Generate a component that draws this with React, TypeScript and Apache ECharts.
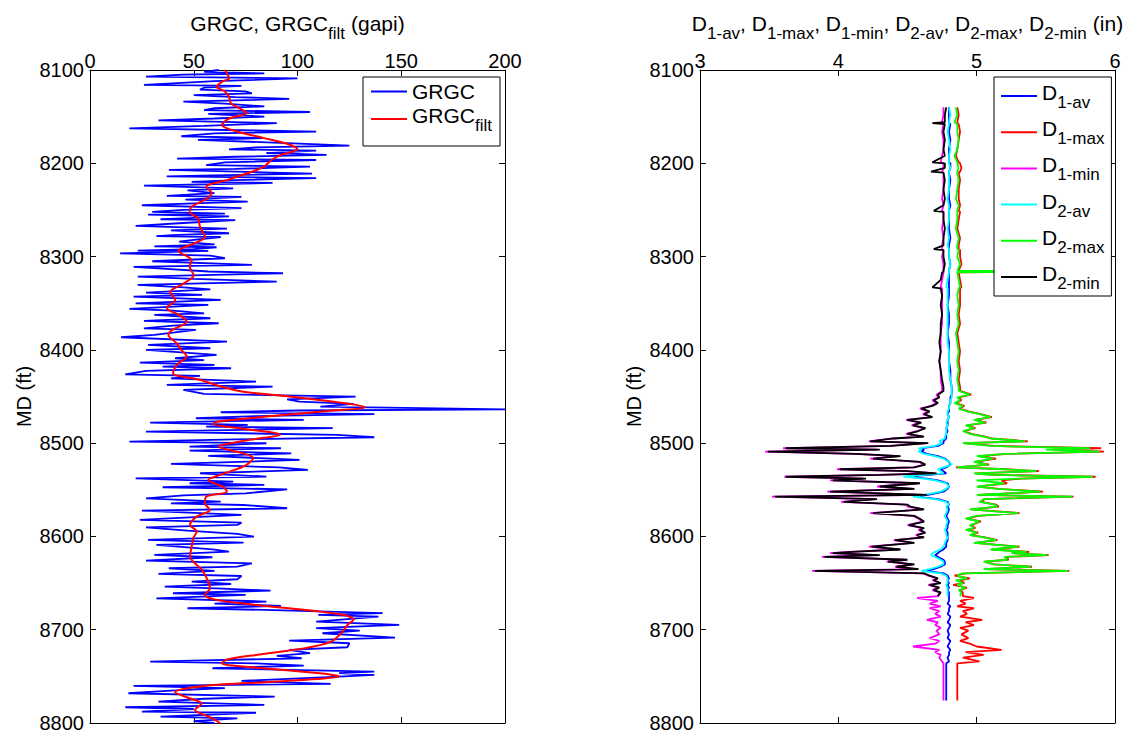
import React, { useEffect, useRef } from "react";
import * as echarts from "echarts";

const FONT = "'Liberation Sans', Arial, Helvetica, sans-serif";

// Axis ranges
const MD_MIN = 8100;
const MD_MAX = 8800;
const MD_STEP = 100;
const GR_MIN = 0;
const GR_MAX = 200;
const GR_STEP = 50;
const D_MIN = 3;
const D_MAX = 6;
const D_STEP = 1;

// GRGC raw gamma ray (gapi) vs measured depth (ft)
const GRGC_DEPTH = [
  8100, 8102, 8103.6, 8105, 8107, 8109, 8112, 8116, 8117, 8119,
  8121, 8123, 8125, 8127, 8129, 8131, 8134, 8136, 8139, 8141,
  8143, 8145, 8147, 8150, 8152, 8154, 8157, 8160, 8162.5, 8166,
  8168, 8171, 8173, 8175, 8178.6, 8181, 8183, 8185, 8186.5, 8189,
  8191, 8193, 8195, 8196.5, 8199, 8202, 8203.6, 8206, 8207, 8211,
  8213, 8214, 8216, 8218, 8220, 8221, 8224, 8227, 8229, 8232,
  8235, 8236, 8239, 8241, 8243, 8245, 8248, 8250, 8252, 8254,
  8255, 8257, 8259, 8260, 8261, 8264, 8267, 8270, 8272, 8275,
  8277, 8278, 8279, 8282, 8284, 8287, 8289, 8290, 8292, 8293.6,
  8294, 8296.5, 8299,
  8301.8, 8305, 8309, 8311, 8312.6, 8316, 8317.9, 8321.5, 8324, 8326.8,
  8330.4, 8333, 8335.1, 8338.6, 8341.1, 8342.9, 8346.5, 8350.1, 8351.8, 8356.1,
  8358, 8360.8, 8362.6, 8366.1, 8369, 8371.5, 8374, 8376.9, 8378.6, 8384,
  8386.5, 8391.1, 8394.7, 8398.3, 8400.1, 8405.4, 8409, 8411, 8413.7, 8416,
  8418, 8419.7, 8422.6, 8426.2, 8427.9, 8430.5, 8434, 8437.6, 8439.4, 8443,
  8447.2, 8450.1, 8453, 8455.5, 8458, 8460.8, 8463.7, 8465, 8466.9, 8469,
  8471, 8473.3, 8475, 8478, 8480.5, 8482.3, 8484, 8487.6, 8491.2, 8493.7,
  8496, 8498.3, 8500.1, 8503.7,
  8505.5, 8508, 8510.9, 8513.7, 8518, 8522.3, 8525.9, 8528.7, 8532.3, 8535.9,
  8537.7, 8541.2, 8543, 8544.8, 8547.3, 8549.5, 8553.8, 8556, 8559.1, 8562.7,
  8564.5, 8566.3, 8569.8, 8572.3, 8577, 8579.5, 8582.3, 8585.2, 8587.7, 8590.2,
  8593.8, 8597.3, 8600.2, 8603.8, 8606.6, 8609.1, 8613.8, 8616.3, 8619.8, 8622.3,
  8625.9, 8628.8, 8632.4, 8634.1, 8637, 8640.2, 8642.4,
  8645.9, 8648.4, 8651, 8653.8, 8656, 8658.1, 8660.9, 8662.7, 8666.3, 8669.8,
  8672, 8674.5, 8677, 8678.8, 8682.3, 8684, 8685.9, 8691.3, 8694.9, 8698.4,
  8701, 8703.8, 8708.4, 8711.6, 8714.5, 8718.8, 8721.6, 8725.2, 8728, 8730.6,
  8734.2, 8736, 8738.4, 8741.3, 8744.9, 8746.5, 8748.4, 8750.2, 8754.9, 8758.1,
  8760.2, 8762.7, 8765.2, 8768.1, 8771.7, 8774, 8777, 8780.6, 8783.1, 8785,
  8787.7, 8789, 8793.1, 8795, 8798, 8800,
];
const GRGC_VALUE = [
  62, 55, 84, 45, 27, 100, 60, 26, 73, 55,
  53, 75, 78, 50, 70, 96, 45, 65, 84, 60,
  55, 106, 57, 84, 60, 33, 90, 55, 19, 109,
  60, 44, 83, 52, 98, 125, 80, 67, 109, 85,
  114, 70, 42, 109, 65, 56, 106, 70, 38, 107,
  60, 37, 109, 70, 49, 88, 26, 69, 47, 60,
  37, 73, 46, 76, 50, 25, 73, 45, 30, 65,
  28, 67, 45, 34, 70, 45, 22, 66, 39, 67,
  40, 32, 63, 50, 43, 60, 31, 61, 50, 23,
  57, 14.5, 58,
  65, 30, 78, 21, 33, 57, 93, 23, 50, 90,
  23, 45, 58, 27, 54, 21, 63, 22, 57, 19,
  40, 55, 31, 58, 26, 62, 40, 26, 51, 31,
  15, 66, 28, 58, 27, 61, 41, 55, 24, 60,
  35, 68, 27, 17, 53, 39, 80, 37, 88, 45,
  55, 128, 95, 101, 127, 111, 200, 100, 63, 137,
  80, 51, 103, 29, 76, 56, 117, 27, 119, 137,
  70, 19, 85, 48,
  92, 48, 97, 57, 101, 39, 91, 105, 53, 85,
  22, 69, 48, 84, 35, 95, 75, 45, 27, 63,
  39, 74, 95, 25, 73, 48, 24, 73, 71, 27,
  47, 71, 79, 28, 74, 32, 59, 67, 31, 59,
  27, 78, 71, 38, 60, 33, 73,
  71, 49, 68, 36, 64, 87, 40, 75, 32, 85,
  60, 92, 47, 84, 141, 110, 139, 109, 149, 109,
  130, 112, 147, 96, 125, 124, 96, 106, 90, 102,
  29, 80, 103, 59, 137, 120, 137, 120, 73, 116,
  21, 65, 39, 18.5, 89, 55, 33, 84, 17, 50,
  25, 80, 34, 71, 50, 60,
];

// Filtered GRGC
const FILT_DEPTH = [
  8100, 8109, 8112, 8118, 8123, 8129, 8136, 8146, 8152, 8159,
  8166, 8173, 8179, 8185, 8191, 8196.5, 8204, 8211, 8218, 8225,
  8232, 8239, 8246.5, 8252, 8259, 8268, 8279, 8286, 8294, 8304,
  8311, 8320, 8329, 8338, 8346.5, 8355, 8363, 8370, 8379, 8384,
  8393, 8400, 8407, 8416, 8425, 8432, 8439, 8445, 8450, 8457,
  8461.5, 8466, 8471.5, 8477, 8479.4, 8484, 8491, 8496.5, 8503.7, 8511,
  8516, 8525, 8534, 8539.5, 8546.6, 8552, 8557.3, 8564.5, 8571.6, 8578.8,
  8587.7, 8594.8, 8602, 8611, 8621.6, 8636, 8648.4, 8655.6, 8662.7, 8668,
  8673.4, 8678.8, 8684, 8689, 8695, 8704, 8713, 8720, 8727, 8732,
  8736, 8741, 8747, 8750, 8755.6, 8760, 8767, 8773.5, 8779, 8786,
  8793, 8800,
];
const FILT_VALUE = [
  65, 67, 64, 61, 65, 67, 68, 75.5, 67, 63.5,
  71, 84, 95, 100, 92, 87.5, 83.5, 75.5, 66, 56,
  58.6, 55.4, 49, 48, 52, 53, 55.4, 50, 42.6, 49,
  48, 50, 45, 38.6, 41, 37, 43.4, 46.6, 39.4, 37.8,
  41.8, 44, 46.6, 41.8, 40, 53, 62.7, 74, 96, 122,
  132.5, 112, 85, 61, 59.4, 72, 91.6, 77, 62, 74,
  78.7, 74, 62.7, 57, 64, 66, 56, 55.4, 57.8, 51.4,
  48.2, 51.4, 49.8, 49, 48.2, 54, 57, 57.8, 55.4, 61,
  80, 104, 122, 127, 124, 121, 116, 103, 80, 66,
  63.5, 82, 112, 120, 90, 56, 41, 48, 53.8, 50.6,
  57, 62.7,
];

// Caliper depths (ft); D2 curves use the first D2_MIN.length entries
const D_DEPTH = [
  8140, 8148, 8156, 8157, 8158, 8166, 8175, 8185, 8192, 8199,
  8200, 8205, 8209, 8210, 8218, 8228, 8238, 8245, 8251, 8252,
  8260, 8270, 8280, 8288, 8292, 8293, 8300, 8308, 8315, 8316,
  8317, 8325, 8333, 8334, 8342, 8352, 8362, 8372, 8382, 8392,
  8402, 8412, 8422, 8432, 8440, 8444, 8448, 8451, 8454, 8457,
  8460, 8463, 8466, 8469, 8472, 8475, 8478, 8481, 8484, 8487,
  8490, 8493, 8495, 8498, 8500, 8503, 8505.5, 8507, 8509, 8511.5,
  8514, 8516.5, 8520, 8523, 8526, 8528, 8530, 8532.5, 8534, 8536,
  8538, 8540, 8543, 8546.5, 8549, 8552, 8555.5, 8557.3, 8560, 8563,
  8566, 8568, 8571, 8575, 8578, 8581, 8584, 8588, 8591, 8593,
  8596, 8598.5, 8601, 8604, 8607, 8611, 8614, 8616.5, 8618, 8620,
  8622, 8625, 8627, 8630, 8632.5, 8635, 8637, 8639.5, 8642, 8645,
  8647, 8650, 8652, 8655, 8657.5, 8660, 8664, 8666, 8669, 8672,
  8675, 8677, 8680, 8683, 8686, 8689.5, 8692, 8695, 8698, 8701,
  8705, 8709, 8712, 8715, 8718, 8721.6, 8724, 8727, 8730, 8734,
  8736, 8745, 8755, 8765, 8776,
];
const D1_AV = [
  4.80, 4.80, 4.80, 4.80, 4.81, 4.80, 4.81, 4.80, 4.80, 4.80,
  4.81, 4.81, 4.80, 4.80, 4.81, 4.80, 4.80, 4.81, 4.80, 4.80,
  4.80, 4.80, 4.81, 4.80, 4.80, 4.80, 4.80, 4.81, 4.80, 4.80,
  4.80, 4.80, 4.80, 4.80, 4.80, 4.79, 4.80, 4.80, 4.79, 4.80,
  4.80, 4.80, 4.81, 4.81, 4.82, 4.82, 4.82, 4.81, 4.81, 4.81,
  4.80, 4.80, 4.80, 4.79, 4.80, 4.79, 4.79, 4.79, 4.78, 4.79,
  4.78, 4.78, 4.78, 4.76, 4.76, 4.72, 4.60, 4.62, 4.60, 4.64,
  4.72, 4.77, 4.80, 4.81, 4.78, 4.74, 4.76, 4.78, 4.65, 4.50,
  4.64, 4.72, 4.79, 4.80, 4.79, 4.76, 4.65, 4.57, 4.72, 4.79,
  4.80, 4.79, 4.80, 4.79, 4.78, 4.79, 4.80, 4.79, 4.79, 4.78,
  4.79, 4.79, 4.79, 4.79, 4.78, 4.78, 4.76, 4.73, 4.72, 4.70,
  4.72, 4.76, 4.77, 4.77, 4.74, 4.69, 4.64, 4.76, 4.79, 4.80,
  4.79, 4.80, 4.79, 4.80, 4.79, 4.80, 4.80, 4.80, 4.80, 4.79,
  4.81, 4.80, 4.80, 4.79, 4.81, 4.80, 4.79, 4.81, 4.80, 4.79,
  4.80, 4.79, 4.81, 4.80, 4.79, 4.81, 4.80, 4.80, 4.79, 4.80,
  4.78, 4.78, 4.78, 4.78, 4.78,
];
const D1_MAX = [
  4.86, 4.87, 4.86, 4.86, 4.87, 4.88, 4.87, 4.86, 4.85, 4.87,
  4.88, 4.89, 4.88, 4.87, 4.88, 4.87, 4.87, 4.88, 4.87, 4.88,
  4.87, 4.86, 4.88, 4.87, 4.87, 4.88, 4.88, 4.89, 4.87, 5.60,
  4.87, 4.88, 4.89, 4.88, 4.88, 4.88, 4.87, 4.88, 4.86, 4.87,
  4.88, 4.87, 4.88, 4.87, 4.88, 4.88, 4.96, 4.87, 4.89, 4.85,
  4.91, 4.88, 4.94, 5.03, 5.11, 4.99, 5.07, 4.93, 4.99, 4.91,
  4.96, 5.06, 5.11, 5.37, 4.91, 5.12, 5.90, 5.55, 5.92, 5.22,
  5.02, 5.14, 4.99, 5.09, 4.85, 5.22, 5.45, 4.99, 5.12, 5.86,
  5.32, 5.18, 5.22, 5.01, 5.16, 5.48, 5.01, 5.70, 5.06, 5.03,
  5.14, 5.16, 4.96, 5.31, 5.01, 4.93, 5.03, 4.96, 4.99, 4.93,
  5.01, 4.96, 5.06, 5.15, 4.99, 5.31, 5.11, 5.38, 5.26, 5.52,
  5.21, 5.23, 5.06, 5.13, 5.40, 5.06, 5.67, 4.92, 4.84, 4.95,
  4.88, 4.91, 4.83, 4.93, 4.88, 4.90, 4.90, 4.98, 4.88, 4.92,
  4.86, 4.98, 4.90, 4.93, 4.88, 5.04, 4.92, 4.98, 4.88, 4.94,
  4.89, 4.94, 4.88, 4.95, 5.00, 5.18, 4.92, 5.05, 4.90, 5.02,
  4.86, 4.86, 4.86, 4.86, 4.86,
];
const D1_MIN = [
  4.76, 4.76, 4.75, 4.74, 4.76, 4.75, 4.76, 4.76, 4.75, 4.74,
  4.76, 4.76, 4.75, 4.76, 4.76, 4.76, 4.75, 4.76, 4.75, 4.76,
  4.76, 4.75, 4.76, 4.75, 4.75, 4.76, 4.75, 4.76, 4.76, 4.76,
  4.76, 4.75, 4.74, 4.75, 4.75, 4.75, 4.75, 4.75, 4.74, 4.74,
  4.74, 4.73, 4.74, 4.74, 4.75, 4.75, 4.71, 4.72, 4.68, 4.71,
  4.67, 4.59, 4.65, 4.61, 4.67, 4.49, 4.59, 4.53, 4.62, 4.57,
  4.49, 4.61, 4.39, 4.22, 4.64, 4.37, 3.60, 4.28, 3.47, 4.11,
  4.44, 4.23, 4.58, 4.62, 4.54, 3.99, 4.49, 4.70, 4.28, 3.61,
  4.18, 3.94, 4.58, 4.28, 4.54, 3.92, 4.63, 3.52, 4.26, 4.02,
  4.49, 4.50, 4.61, 4.23, 4.54, 4.58, 4.61, 4.50, 4.61, 4.58,
  4.62, 4.56, 4.61, 4.40, 4.54, 4.22, 4.44, 4.08, 3.94, 4.28,
  3.88, 4.49, 4.35, 4.54, 4.41, 4.57, 3.81, 4.61, 4.65, 4.71,
  4.68, 4.73, 4.65, 4.72, 4.68, 4.73, 4.72, 4.57, 4.72, 4.66,
  4.74, 4.66, 4.73, 4.70, 4.74, 4.64, 4.72, 4.70, 4.74, 4.71,
  4.73, 4.66, 4.73, 4.70, 4.54, 4.73, 4.70, 4.74, 4.73, 4.75,
  4.76, 4.76, 4.76, 4.76, 4.76,
];
const D2_AV = [
  4.80, 4.81, 4.80, 4.80, 4.80, 4.79, 4.80, 4.81, 4.80, 4.80,
  4.80, 4.81, 4.80, 4.80, 4.80, 4.80, 4.79, 4.80, 4.80, 4.80,
  4.80, 4.79, 4.80, 4.79, 4.80, 4.80, 4.80, 4.81, 4.80, 4.80,
  4.80, 4.79, 4.78, 4.79, 4.79, 4.79, 4.79, 4.79, 4.79, 4.79,
  4.80, 4.80, 4.80, 4.81, 4.82, 4.82, 4.82, 4.82, 4.81, 4.81,
  4.80, 4.80, 4.79, 4.79, 4.80, 4.79, 4.78, 4.79, 4.78, 4.78,
  4.78, 4.77, 4.77, 4.73, 4.75, 4.70, 4.58, 4.60, 4.58, 4.62,
  4.70, 4.76, 4.80, 4.82, 4.76, 4.72, 4.74, 4.76, 4.62, 4.47,
  4.62, 4.70, 4.78, 4.80, 4.78, 4.74, 4.62, 4.54, 4.70, 4.78,
  4.80, 4.78, 4.79, 4.78, 4.77, 4.78, 4.79, 4.78, 4.78, 4.77,
  4.78, 4.78, 4.79, 4.78, 4.77, 4.76, 4.74, 4.70, 4.68, 4.67,
  4.70, 4.74, 4.76, 4.76, 4.72, 4.66, 4.60, 4.74, 4.78, 4.79,
  4.79, 4.79, 4.78, 4.79, 4.79, 4.79, 4.79,
];
const D2_MAX = [
  4.85, 4.86, 4.84, 4.85, 4.86, 4.86, 4.87, 4.86, 4.84, 4.86,
  4.86, 4.87, 4.86, 4.86, 4.87, 4.86, 4.85, 4.87, 4.86, 4.86,
  4.86, 4.85, 4.87, 4.86, 4.86, 4.87, 4.86, 4.88, 4.86, 5.60,
  4.86, 4.87, 4.88, 4.87, 4.86, 4.87, 4.86, 4.87, 4.85, 4.86,
  4.87, 4.86, 4.87, 4.86, 4.87, 4.87, 4.95, 4.86, 4.88, 4.84,
  4.90, 4.87, 4.93, 5.02, 5.10, 4.98, 5.06, 4.92, 4.98, 4.90,
  4.95, 5.05, 5.10, 5.35, 4.90, 5.10, 5.82, 5.50, 5.89, 5.20,
  5.00, 5.12, 4.98, 5.08, 4.86, 5.20, 5.43, 4.98, 5.10, 5.84,
  5.30, 5.00, 5.20, 5.00, 5.15, 5.46, 5.00, 5.69, 5.05, 5.02,
  5.13, 5.15, 4.95, 5.30, 5.00, 4.92, 5.02, 4.95, 4.98, 4.92,
  5.00, 4.95, 5.05, 5.14, 4.98, 5.30, 5.10, 5.36, 5.25, 5.51,
  5.20, 5.22, 5.05, 5.12, 5.39, 5.05, 5.66, 4.90, 4.86, 4.93,
  4.85, 4.90, 4.86, 4.92, 4.87, 4.89, 4.88,
];
const D2_MIN = [
  4.78, 4.77, 4.77, 4.68, 4.77, 4.76, 4.77, 4.76, 4.77, 4.68,
  4.77, 4.77, 4.67, 4.76, 4.77, 4.76, 4.77, 4.76, 4.69, 4.76,
  4.76, 4.77, 4.76, 4.76, 4.69, 4.76, 4.76, 4.77, 4.76, 4.76,
  4.75, 4.74, 4.68, 4.74, 4.75, 4.74, 4.75, 4.74, 4.74, 4.73,
  4.74, 4.73, 4.74, 4.75, 4.76, 4.76, 4.72, 4.73, 4.69, 4.72,
  4.68, 4.60, 4.66, 4.62, 4.68, 4.50, 4.60, 4.54, 4.63, 4.58,
  4.50, 4.62, 4.40, 4.23, 4.65, 4.38, 3.62, 4.30, 3.49, 4.13,
  4.45, 4.25, 4.59, 4.63, 4.55, 4.01, 4.50, 4.71, 4.30, 3.62,
  4.20, 3.96, 4.59, 4.30, 4.55, 3.94, 4.64, 3.54, 4.28, 4.04,
  4.50, 4.52, 4.62, 4.25, 4.55, 4.59, 4.62, 4.51, 4.62, 4.59,
  4.63, 4.57, 4.62, 4.41, 4.55, 4.24, 4.45, 4.10, 3.96, 4.30,
  3.90, 4.50, 4.36, 4.55, 4.42, 4.58, 3.83, 4.62, 4.66, 4.72,
  4.69, 4.74, 4.66, 4.73, 4.69, 4.74, 4.72,
];

const SERIES_NAMES = ["GRGC", "GRGC_filt", "D_1-av", "D_1-max", "D_1-min", "D_2-av", "D_2-max", "D_2-min"];
const LEGEND_TEXT: Record<string, string> = {
  GRGC: "GRGC",
  GRGC_filt: "{m|GRGC}{s|filt}",
  "D_1-av": "{m|D}{s|1-av}",
  "D_1-max": "{m|D}{s|1-max}",
  "D_1-min": "{m|D}{s|1-min}",
  "D_2-av": "{m|D}{s|2-av}",
  "D_2-max": "{m|D}{s|2-max}",
  "D_2-min": "{m|D}{s|2-min}",
};

const pairs = (vals: number[], depths: number[]) => vals.map((v, i) => [v, depths[i]]);

const rich = (colorKey: string) => ({
  m: { fontSize: 21, fontFamily: FONT, lineHeight: 20, padding: [0, 0, 7, 0], [colorKey]: "#000" },
  s: { fontSize: 17, fontFamily: FONT, lineHeight: 14, padding: [13, 0, 0, 0], [colorKey]: "#000" },
  p: { fontSize: 21, fontFamily: FONT, lineHeight: 20, padding: [0, 0, 7, 6], [colorKey]: "#000" },
});

const axisCommon = {
  type: "value" as const,
  splitLine: { show: false },
  axisLine: { show: true, onZero: false, lineStyle: { color: "#000", width: 1 } },
  axisTick: { show: true, inside: true, length: 6, lineStyle: { color: "#000", width: 1 } },
};

const plain = (v: number) => String(v);

function xAxes(grid: number, min: number, max: number, step: number) {
  return [
    {
      ...axisCommon,
      gridIndex: grid,
      position: "top",
      min,
      max,
      interval: step,
      axisLabel: { show: true, fontSize: 20, fontFamily: FONT, color: "#000", margin: -1, formatter: plain },
    },
    {
      ...axisCommon,
      gridIndex: grid,
      position: "bottom",
      min,
      max,
      interval: step,
      axisLabel: { show: false },
    },
  ];
}

function yAxes(grid: number) {
  return [
    {
      ...axisCommon,
      gridIndex: grid,
      position: "left",
      inverse: true,
      min: MD_MIN,
      max: MD_MAX,
      interval: MD_STEP,
      name: "MD (ft)",
      nameLocation: "middle",
      nameGap: 56,
      nameTextStyle: { fontSize: 20, fontFamily: FONT, color: "#000" },
      axisLabel: { show: true, fontSize: 20, fontFamily: FONT, color: "#000", margin: 6, formatter: plain },
    },
    {
      ...axisCommon,
      gridIndex: grid,
      position: "right",
      inverse: true,
      min: MD_MIN,
      max: MD_MAX,
      interval: MD_STEP,
      axisLabel: { show: false },
    },
  ];
}

function lineSeries(name: string, color: string, data: number[][], axis: number, width: number, extra: object = {}) {
  return {
    type: "line",
    name,
    xAxisIndex: axis,
    yAxisIndex: axis,
    data,
    symbol: "none",
    showSymbol: false,
    color,
    lineStyle: { color, width },
    emphasis: { disabled: true },
    silent: true,
    ...extra,
  };
}

function legend(names: string[], left: number, top: number, gap: number, padding: number[]) {
  return {
    orient: "vertical",
    left,
    top,
    data: names.map((n) => ({ name: n, icon: "rect" })),
    icon: "rect",
    itemWidth: 36,
    itemHeight: 2,
    itemGap: gap,
    padding,
    backgroundColor: "#fff",
    borderColor: "#000",
    borderWidth: 1,
    borderRadius: 0,
    selectedMode: false,
    z: 20,
    textStyle: { fontSize: 21, fontFamily: FONT, color: "#000", lineHeight: 20, rich: rich("color") },
    formatter: (n: string) => LEGEND_TEXT[n] ?? n,
  };
}

export default function App() {
  const ref = useRef<HTMLDivElement>(null);

  useEffect(() => {
    document.body.style.margin = "0";
    if (!ref.current) return;
    const chart = echarts.init(ref.current, undefined, { renderer: "svg" });
    const option = {
      animation: false,
      backgroundColor: "#fff",
      textStyle: { fontFamily: FONT },
      grid: [
        { left: 90, top: 70, width: 415, height: 653, outerBoundsMode: "none", containLabel: false },
        { left: 700, top: 70, width: 415, height: 653, outerBoundsMode: "none", containLabel: false },
      ],
      xAxis: [...xAxes(0, GR_MIN, GR_MAX, GR_STEP), ...xAxes(1, D_MIN, D_MAX, D_STEP)],
      yAxis: [...yAxes(0), ...yAxes(1)],
      legend: [
        legend(SERIES_NAMES.slice(0, 2), 363, 77, 2, [4, 8, 12, 8]),
        legend(SERIES_NAMES.slice(2), 994, 77, 6.2, [4, 7, 4, 7]),
      ],
      graphic: [
        {
          type: "text",
          x: 297.5,
          y: 17,
          z: 30,
          style: {
            text: "{m|GRGC, GRGC}{s|filt}{p|(gapi)}",
            rich: rich("fill"),
            fill: "#000",
            fontFamily: FONT,
            fontSize: 21,
            align: "center",
            verticalAlign: "top",
          },
        },
        {
          type: "text",
          x: 907.5,
          y: 17,
          z: 30,
          style: {
            text:
              "{m|D}{s|1-av}{m|, D}{s|1-max}{m|, D}{s|1-min}{m|, D}{s|2-av}{m|, D}{s|2-max}{m|, D}{s|2-min}{p|(in)}",
            rich: rich("fill"),
            fill: "#000",
            fontFamily: FONT,
            fontSize: 21,
            align: "center",
            verticalAlign: "top",
          },
        },
      ],
      series: [
        lineSeries("GRGC", "#0000ff", pairs(GRGC_VALUE, GRGC_DEPTH), 0, 1.8),
        lineSeries("GRGC_filt", "#ff0000", pairs(FILT_VALUE, FILT_DEPTH), 0, 2, { smooth: 0.3 }),
        lineSeries("D_1-av", "#0000ff", pairs(D1_AV, D_DEPTH), 2, 1.8),
        lineSeries("D_1-max", "#ff0000", pairs(D1_MAX, D_DEPTH), 2, 1.8),
        lineSeries("D_1-min", "#ff00ff", pairs(D1_MIN, D_DEPTH), 2, 1.8),
        lineSeries("D_2-av", "#00ffff", pairs(D2_AV, D_DEPTH), 2, 1.8),
        lineSeries("D_2-max", "#00ff00", pairs(D2_MAX, D_DEPTH), 2, 1.8),
        lineSeries("D_2-min", "#000000", pairs(D2_MIN, D_DEPTH), 2, 1.8),
      ],
    };
    chart.setOption(option as any);
    return () => chart.dispose();
  }, []);

  return <div ref={ref} style={{ width: 1133, height: 734, background: "#fff" }} />;
}
